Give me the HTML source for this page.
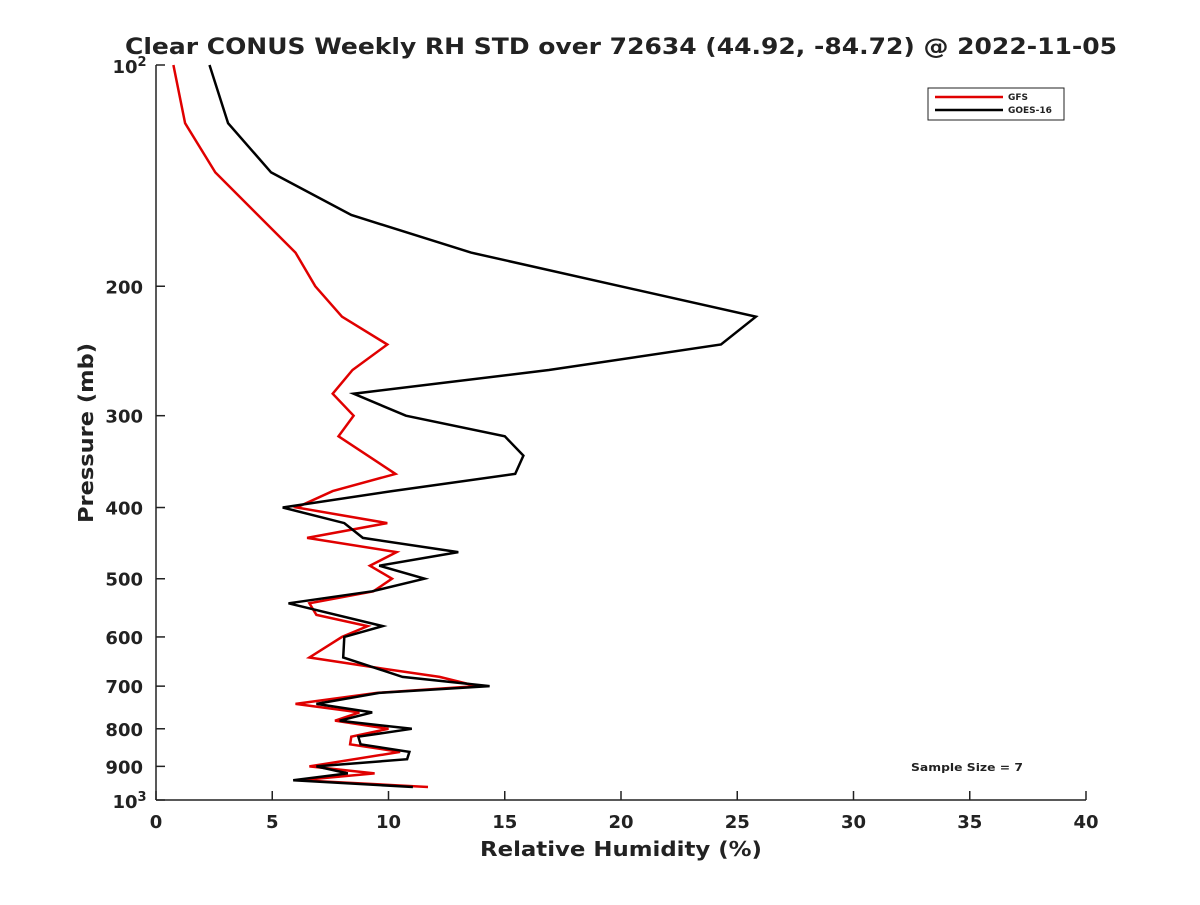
<!DOCTYPE html>
<html><head><meta charset="utf-8"><style>
body{margin:0;background:#fff;}
text{font-family:"DejaVu Sans","Liberation Sans",sans-serif;font-weight:bold;fill:#222;}
</style></head><body>
<svg id="chart" width="1200" height="900" xmlns="http://www.w3.org/2000/svg">
<rect width="1200" height="900" fill="#fff"/>
<text x="621" y="54" font-size="22" text-anchor="middle" textLength="992" lengthAdjust="spacingAndGlyphs">Clear CONUS Weekly RH STD over 72634 (44.92, -84.72) @ 2022-11-05</text>
<g id="axes"></g>
<g id="series"></g>
<text x="621" y="856" font-size="20" text-anchor="middle" textLength="282" lengthAdjust="spacingAndGlyphs">Relative Humidity (%)</text>
<text transform="translate(93,433) rotate(-90)" font-size="20" text-anchor="middle" textLength="180" lengthAdjust="spacingAndGlyphs">Pressure (mb)</text>
<g>
<rect x="928" y="88" width="136" height="32" fill="#fff" stroke="#222" stroke-width="1"/>
<line x1="935" y1="97" x2="1003" y2="97" stroke="#e00000" stroke-width="2.5"/>
<text x="1008" y="100" font-size="9">GFS</text>
<line x1="935" y1="110" x2="1003" y2="110" stroke="#000" stroke-width="2.5"/>
<text x="1008" y="113" font-size="9">GOES-16</text>
</g>
<text x="967" y="771" font-size="11" text-anchor="middle" textLength="112" lengthAdjust="spacingAndGlyphs">Sample Size = 7</text>
</svg>
<script>
const xTicks=[0,5,10,15,20,25,30,35,40];
const yTicks=[200,300,400,500,600,700,800,900];
const gfsP=[100,120,140,180,200,220,240,260,280,300,320,360,380,400,420,440,460,480,500,520,540,560,580,600,640,660,680,700,715,740,760,780,800,820,840,860,900,920,940,960];
const gfsRH=[0.75,1.25,2.55,6.0,6.85,8.0,9.95,8.45,7.6,8.5,7.85,10.3,7.6,6.05,9.95,6.5,10.35,9.2,10.15,9.35,6.6,6.9,9.1,8.0,6.6,9.4,12.2,13.8,9.5,6.0,8.75,7.7,10.0,8.4,8.35,10.5,6.6,9.4,6.2,11.7];
const goesP=[100,120,140,160,180,220,240,260,280,300,320,340,360,380,400,420,440,460,480,500,520,540,580,600,640,680,700,715,740,760,780,800,820,840,860,880,900,920,940,960];
const goesRH=[2.3,3.1,4.95,8.4,13.55,25.8,24.3,16.9,8.5,10.75,15.0,15.8,15.45,10.15,5.45,8.1,8.9,13.0,9.6,11.55,9.3,5.7,9.75,8.1,8.05,10.6,14.35,9.6,6.9,9.3,7.9,11.0,8.7,8.8,10.9,10.8,6.9,8.25,5.9,11.05];
const X0=156,X1=1086,Y0=65,Y1=800;
const xs=v=>X0+(v-0)/(40-0)*(X1-X0);
const ys=p=>Y0+(Math.log10(p)-2)*(Y1-Y0);
const NS="http://www.w3.org/2000/svg";
const ax=document.getElementById('axes');
function mk(tag,attrs,parent){const e=document.createElementNS(NS,tag);for(const k in attrs)e.setAttribute(k,attrs[k]);parent.appendChild(e);return e;}
let l=mk('line',{x1:X0,y1:Y0,x2:X0,y2:Y1,stroke:'#222','stroke-width':1.5},ax);


l=mk('line',{x1:X0,y1:Y1,x2:X1,y2:Y1,stroke:'#222','stroke-width':1.5},ax);


xTicks.forEach(v=>{
 mk('line',{x1:xs(v),y1:Y1,x2:xs(v),y2:Y1-9,stroke:'#222','stroke-width':1.5},ax);
 const t=mk('text',{x:xs(v),y:Y1+28,'font-size':18,'text-anchor':'middle'},ax);
 t.textContent=v;
 
 
});
[100,1000].forEach(p=>mk('line',{x1:X0,y1:ys(p),x2:X0+9,y2:ys(p),stroke:'#222','stroke-width':1.5},ax));
yTicks.forEach(p=>{
 mk('line',{x1:X0,y1:ys(p),x2:X0+9,y2:ys(p),stroke:'#222','stroke-width':1.5},ax);
 const t=mk('text',{x:X0-13,y:ys(p)+7,'font-size':18,'text-anchor':'end'},ax);
 t.textContent=p;
 
 
});
[[100,'2'],[1000,'3']].forEach(([p,e])=>{
 const t=mk('text',{x:X0-31,y:ys(p)+8,'font-size':18,'text-anchor':'middle'},ax);
 t.textContent='10';
 
 
 const s=mk('text',{x:X0-14,y:ys(p)+1,'font-size':13,'text-anchor':'middle'},ax);
 s.textContent=e;
});
const sg=document.getElementById('series');
function line(P,R,color,name){
 const d=P.map((p,i)=>(i?'L':'M')+xs(R[i]).toFixed(1)+','+ys(p).toFixed(1)).join('');
 const e=mk('path',{d:d,fill:'none',stroke:color,'stroke-width':2.5,'stroke-linejoin':'miter'},sg);
 
 
}
line(gfsP,gfsRH,'#e00000','gfs-line');
line(goesP,goesRH,'#000','goes16-line');
</script>
</body></html>
